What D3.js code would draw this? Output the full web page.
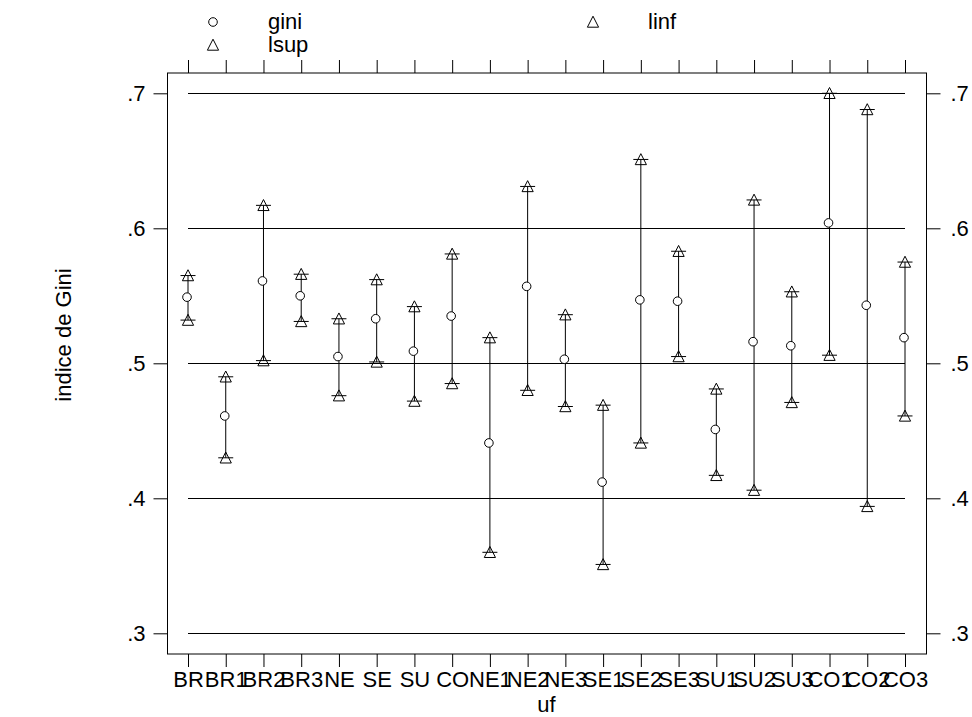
<!DOCTYPE html>
<html>
<head>
<meta charset="utf-8">
<script src="https://cdn.jsdelivr.net/npm/d3@7"></script>
<style>
  body { margin: 0; background: #fff; }
  svg { display: block; font-family: "Liberation Sans", Arial, sans-serif; }
</style>
</head>
<body>
<svg id="chart"></svg>
<script>
// categories (uf) and the three series
const ufs = ["BR", "BR1", "BR2", "BR3", "NE", "SE", "SU", "CO", "NE1", "NE2",
  "NE3", "SE1", "SE2", "SE3", "SU1", "SU2", "SU3", "CO1", "CO2", "CO3"];
const gini = [0.549, 0.461, 0.561, 0.550, 0.505, 0.533, 0.509, 0.535, 0.441, 0.557,
  0.503, 0.412, 0.547, 0.546, 0.451, 0.516, 0.513, 0.604, 0.543, 0.519];
const linf = [0.532, 0.430, 0.502, 0.531, 0.476, 0.501, 0.472, 0.485, 0.360, 0.480,
  0.468, 0.351, 0.441, 0.505, 0.417, 0.406, 0.471, 0.506, 0.394, 0.461];
const lsup = [0.565, 0.490, 0.617, 0.566, 0.533, 0.562, 0.542, 0.581, 0.519, 0.631,
  0.536, 0.469, 0.651, 0.583, 0.481, 0.621, 0.553, 0.700, 0.688, 0.575];
const yTicks = [0.3, 0.4, 0.5, 0.6, 0.7];

class RangePlot {
  constructor(_config, _data) {
    this.config = {
      parentElement: _config.parentElement,
      containerWidth: _config.containerWidth || 972,
      containerHeight: _config.containerHeight || 717,
      margin: _config.margin || { top: 73, right: 46, bottom: 63, left: 167 },
      fontSize: _config.fontSize || 22,
    };
    this.data = _data;
    this.initVis();
  }

  initVis() {
    let vis = this;
    const m = vis.config.margin;

    vis.width = vis.config.containerWidth - m.left - m.right;
    vis.height = vis.config.containerHeight - m.top - m.bottom;

    // scales
    vis.xScale = d3.scalePoint().domain(ufs).range([21, vis.width - 21]);
    vis.yScale = d3.scaleLinear().domain([0.3, 0.7]).range([vis.height - 20.7, 20.3]);

    const fmt = (d) => d3.format(".1f")(d).replace(/^0/, "");

    vis.xAxis = d3.axisBottom(vis.xScale).tickSize(13).tickPadding(4);
    vis.xAxisTop = d3.axisTop(vis.xScale).tickSize(13).tickFormat("");
    vis.yAxis = d3.axisLeft(vis.yScale).tickValues(yTicks).tickSize(14).tickPadding(8).tickFormat(fmt);
    vis.yAxisRight = d3.axisRight(vis.yScale).tickValues(yTicks).tickSize(14).tickPadding(10).tickFormat(fmt);

    vis.svg = d3
      .select(vis.config.parentElement)
      .attr("width", vis.config.containerWidth)
      .attr("height", vis.config.containerHeight);

    vis.chart = vis.svg.append("g").attr("transform", `translate(${m.left},${m.top})`);

    vis.chart.append("rect")
      .attr("x", 0.5).attr("y", 0)
      .attr("width", vis.width).attr("height", vis.height)
      .attr("fill", "none").attr("stroke", "#000").attr("stroke-width", 1);

    vis.xAxisG = vis.chart.append("g").attr("transform", `translate(0,${vis.height})`);
    vis.xAxisTopG = vis.chart.append("g");
    vis.yAxisG = vis.chart.append("g").attr("transform", "translate(0.5,0)");
    vis.yAxisRightG = vis.chart.append("g").attr("transform", `translate(${vis.width + 0.5},0)`);

    // axis titles
    vis.svg.append("text")
      .attr("x", m.left + vis.width / 2)
      .attr("y", 712)
      .attr("text-anchor", "middle")
      .style("font-size", vis.config.fontSize + "px")
      .text("uf");

    vis.svg.append("text")
      .attr("transform", `translate(71,335) rotate(-90)`)
      .attr("text-anchor", "middle")
      .style("font-size", vis.config.fontSize + "px")
      .text("indice de Gini");

    vis.renderVis();
  }

  renderVis() {
    let vis = this;
    const x = (d) => vis.xScale(d.uf);
    const y = vis.yScale;
    const tri = "M0,-5.8L5.6,5.2L-5.6,5.2Z";

    // horizontal grid lines from first to last category
    vis.chart.selectAll(".grid")
      .data(yTicks)
      .join("line")
      .attr("class", "grid")
      .attr("x1", vis.xScale(ufs[0]))
      .attr("x2", vis.xScale(ufs[ufs.length - 1]))
      .attr("y1", (d) => Math.round(y(d)) + 0.5)
      .attr("y2", (d) => Math.round(y(d)) + 0.5)
      .attr("stroke", "#000");

    // range lines
    vis.chart.selectAll(".range")
      .data(vis.data)
      .join("line")
      .attr("class", "range")
      .attr("x1", x).attr("x2", x)
      .attr("y1", (d) => y(d.linf))
      .attr("y2", (d) => y(d.lsup))
      .attr("stroke", "#000");

    // caps at both ends
    const ends = vis.data.flatMap((d) => [{ uf: d.uf, v: d.linf }, { uf: d.uf, v: d.lsup }]);
    vis.chart.selectAll(".cap")
      .data(ends)
      .join("line")
      .attr("class", "cap")
      .attr("x1", (d) => x(d) - 7.5)
      .attr("x2", (d) => x(d) + 7.5)
      .attr("y1", (d) => y(d.v))
      .attr("y2", (d) => y(d.v))
      .attr("stroke", "#000");

    vis.chart.selectAll(".tri")
      .data(ends)
      .join("path")
      .attr("class", "tri")
      .attr("d", tri)
      .attr("transform", (d) => `translate(${x(d)},${y(d.v)})`)
      .attr("fill", "none")
      .attr("stroke", "#000");

    vis.chart.selectAll(".point")
      .data(vis.data)
      .join("circle")
      .attr("class", "point")
      .attr("r", 4.3)
      .attr("cx", (d) => x(d) - 1)
      .attr("cy", (d) => y(d.gini))
      .attr("fill", "#fff")
      .attr("stroke", "#000");

    // axes
    const styleAxis = (g) => {
      g.select(".domain").remove();
      g.attr("font-family", null).attr("font-size", null);
      g.selectAll("text").style("font-size", vis.config.fontSize + "px").attr("fill", "#000");
      g.selectAll(".tick line").attr("stroke", "#000");
    };
    vis.xAxisG.call(vis.xAxis).call(styleAxis);
    vis.xAxisTopG.call(vis.xAxisTop).call(styleAxis);
    vis.yAxisG.call(vis.yAxis).call(styleAxis);
    vis.yAxisRightG.call(vis.yAxisRight).call(styleAxis);

    // legend
    const legend = vis.svg.append("g");
    const items = [
      { label: "gini", sym: "circle", x: 213, y: 22 },
      { label: "linf", sym: "tri", x: 593, y: 22 },
      { label: "lsup", sym: "tri", x: 213, y: 45 },
    ];
    items.forEach((it) => {
      if (it.sym === "circle") {
        legend.append("circle").attr("cx", it.x).attr("cy", it.y).attr("r", 4.3)
          .attr("fill", "none").attr("stroke", "#000");
      } else {
        legend.append("path").attr("d", tri).attr("transform", `translate(${it.x},${it.y})`)
          .attr("fill", "none").attr("stroke", "#000");
      }
      legend.append("text")
        .attr("x", it.x + 55)
        .attr("y", it.y + 7)
        .style("font-size", vis.config.fontSize + "px")
        .text(it.label);
    });
  }
}

const data = ufs.map((u, i) => ({ uf: u, gini: gini[i], linf: linf[i], lsup: lsup[i] }));
new RangePlot({ parentElement: "#chart" }, data);
</script>
</body>
</html>
